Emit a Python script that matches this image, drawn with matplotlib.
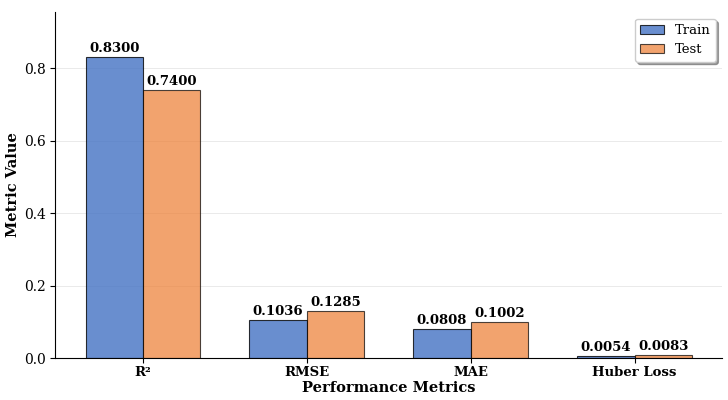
import matplotlib
matplotlib.use("Agg")
import matplotlib.pyplot as plt
import numpy as np

metrics = ["R²", "RMSE", "MAE", "Huber Loss"]
train_vals = [0.8300, 0.1036, 0.0808, 0.0054]
test_vals = [0.7400, 0.1285, 0.1002, 0.0083]

plt.rcParams['font.family'] = ['DejaVu Serif']

fig, ax = plt.subplots(figsize=(7.28, 4.0), dpi=100)
x = np.arange(len(metrics))
w = 0.35
b1 = ax.bar(x - w/2, train_vals, w, label="Train", color="#4472C4", alpha=0.8,
            edgecolor="black", linewidth=0.8)
b2 = ax.bar(x + w/2, test_vals, w, label="Test", color="#ED7D31", alpha=0.7,
            edgecolor="black", linewidth=0.8)
for bars in (b1, b2):
    for r in bars:
        h = r.get_height()
        ax.text(r.get_x() + r.get_width()/2, h + 0.006, f"{h:.4f}",
                ha="center", va="bottom", fontsize=9.5, fontweight="bold")

ax.set_xticks(x)
ax.set_xticklabels(metrics, fontsize=9.5, fontweight="bold")
ax.set_ylabel("Metric Value", fontsize=10.5, fontweight="bold", labelpad=3)
ax.set_xlabel("Performance Metrics", fontsize=10.5, fontweight="bold", labelpad=1)
ax.set_ylim(0, max(train_vals) * 1.15)
ax.tick_params(axis='y', labelsize=10)
ax.tick_params(axis='x', pad=2.5)
ax.yaxis.grid(True, alpha=0.3, linestyle='-', linewidth=0.6)
ax.set_axisbelow(True)
ax.spines['top'].set_visible(False)
ax.spines['right'].set_visible(False)
ax.legend(loc="upper right", fontsize=9.5, frameon=True, fancybox=True, shadow=True,
          handlelength=1.8)

fig.subplots_adjust(left=0.076, right=0.992, top=0.97, bottom=0.105)
fig.savefig("out.png", dpi=100)
